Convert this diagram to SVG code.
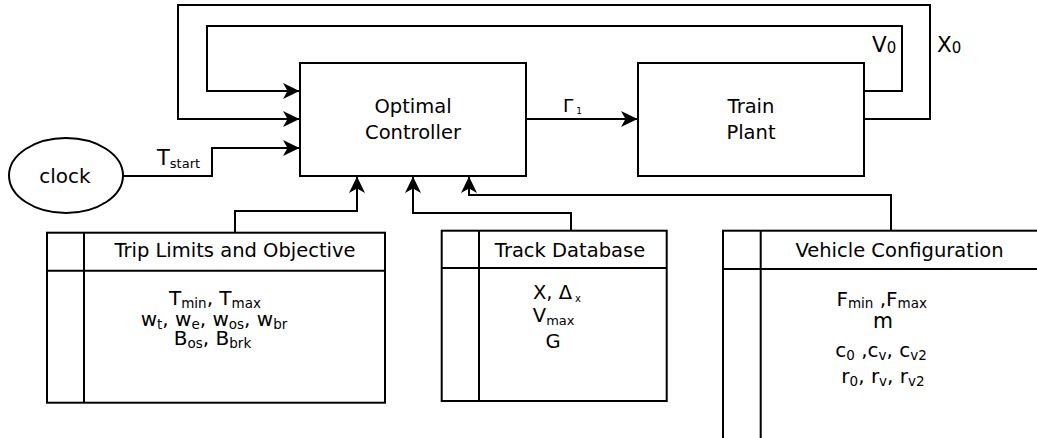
<svg xmlns="http://www.w3.org/2000/svg" width="1037" height="438" viewBox="0 0 1037 438">
  <style>
    .box { fill: #ffffff; stroke: #000000; stroke-width: 2; }
    .wire { fill: none; stroke: #000000; stroke-width: 2; }
    .lbl { font-family: "DejaVu Sans", "Liberation Sans", sans-serif; font-size: 19.5px; fill: #000000; }
    .body { font-family: "DejaVu Sans", "Liberation Sans", sans-serif; font-size: 20px; fill: #000000; text-anchor: middle; }
    .sub { font-size: 13.5px; }
    .mid { text-anchor: middle; }
  </style>
  <defs>
    <marker id="arrow" markerWidth="18" markerHeight="18" refX="16" refY="8" orient="auto" markerUnits="userSpaceOnUse">
      <path d="M16.5,8 L0,0 L4.5,8 L0,16 Z" fill="#000000"/>
    </marker>
  </defs>

  <!-- connectors -->
  <g id="connectors">
    <!-- position feedback X0 -->
    <polyline class="wire" points="864,119 930,119 930,5 178,5 178,119 299,119" marker-end="url(#arrow)"/>
    <!-- velocity feedback V0 -->
    <polyline class="wire" points="864,91 902,91 902,26 207,26 207,91 299,91" marker-end="url(#arrow)"/>
    <!-- control output -->
    <polyline class="wire" points="526,119 637,119" marker-end="url(#arrow)"/>
    <!-- clock start time -->
    <polyline class="wire" points="123,176 212,176 212,148 299,148" marker-end="url(#arrow)"/>
    <!-- trip limits -->
    <polyline class="wire" points="235,233 235,211 357,211 357,177" marker-end="url(#arrow)"/>
    <!-- track database -->
    <polyline class="wire" points="571,231 571,213 413,213 413,177" marker-end="url(#arrow)"/>
    <!-- vehicle configuration -->
    <polyline class="wire" points="891,231 891,195 469,195 469,177" marker-end="url(#arrow)"/>

    <text class="lbl" x="563" y="112" style="font-size:18.5px">Γ<tspan style="font-size:9px" dy="2" dx="3">1</tspan></text>
    <text class="lbl" x="157" y="165" style="font-size:21px">T<tspan style="font-size:13px" dy="3">start</tspan></text>
    <text class="lbl" x="872" y="51.5" style="font-size:21.5px">V<tspan style="font-size:15px" dy="1">0</tspan></text>
    <text class="lbl" x="937" y="51.5" style="font-size:21.5px">X<tspan style="font-size:15px" dy="1">0</tspan></text>
  </g>

  <!-- controller -->
  <g id="optimal-controller">
    <rect class="box" x="300" y="63" width="226" height="113"/>
    <text class="lbl mid" x="413" y="113">Optimal</text>
    <text class="lbl mid" x="413" y="138.5">Controller</text>
  </g>

  <!-- plant -->
  <g id="train-plant">
    <rect class="box" x="638" y="63" width="226" height="113"/>
    <text class="lbl mid" x="751" y="113">Train</text>
    <text class="lbl mid" x="751" y="139">Plant</text>
  </g>

  <!-- clock -->
  <g id="clock">
    <ellipse class="box" cx="66" cy="175.5" rx="57" ry="37.5"/>
    <text class="lbl mid" x="65" y="183" style="font-size:20px">clock</text>
  </g>

  <!-- trip limits and objective -->
  <g id="trip-limits">
    <rect class="box" x="47" y="232.7" width="338" height="170"/>
    <line class="wire" x1="47" y1="270.7" x2="385" y2="270.7"/>
    <line class="wire" x1="84" y1="232.7" x2="84" y2="402.7"/>
    <text class="lbl mid" x="235" y="257">Trip Limits and Objective</text>
    <text class="body" x="215" y="305">T<tspan class="sub" dy="2.5">min</tspan><tspan dy="-2.5">, T</tspan><tspan class="sub" dy="2.5">max</tspan></text>
    <text class="body" x="214" y="326">w<tspan class="sub" dy="2.5">t</tspan><tspan dy="-2.5">, w</tspan><tspan class="sub" dy="2.5">e</tspan><tspan dy="-2.5">, w</tspan><tspan class="sub" dy="2.5">os</tspan><tspan dy="-2.5">, w</tspan><tspan class="sub" dy="2.5">br</tspan></text>
    <text class="body" x="212.5" y="345">B<tspan class="sub" dy="2.5">os</tspan><tspan dy="-2.5">, B</tspan><tspan class="sub" dy="2.5">brk</tspan></text>
  </g>

  <!-- track database -->
  <g id="track-database">
    <rect class="box" x="441.7" y="230.7" width="225" height="170.3"/>
    <line class="wire" x1="441.7" y1="268" x2="666.7" y2="268"/>
    <line class="wire" x1="479" y1="230.7" x2="479" y2="401"/>
    <text class="lbl mid" x="570" y="256.5">Track Database</text>
    <text class="lbl mid" x="557" y="298.5">X, Δ<tspan style="font-size:10px" dy="3" dx="3">x</tspan></text>
    <text class="lbl mid" x="553.7" y="321.5">V<tspan style="font-size:13px" dy="3">max</tspan></text>
    <text class="lbl mid" x="553" y="348">G</text>
  </g>

  <!-- vehicle configuration -->
  <g id="vehicle-configuration">
    <rect class="box" x="723" y="230.7" width="322" height="220"/>
    <line class="wire" x1="723" y1="269" x2="1045" y2="269"/>
    <line class="wire" x1="760.7" y1="230.7" x2="760.7" y2="450"/>
    <text class="lbl mid" x="899.5" y="256.5">Vehicle Configuration</text>
    <text class="body" x="881.7" y="305.5">F<tspan class="sub" dy="2.5">min</tspan><tspan dy="-2.5"> ,F</tspan><tspan class="sub" dy="2.5">max</tspan></text>
    <text class="body" x="883" y="327.5" style="font-size:20.5px">m</text>
    <text class="body" x="881" y="357">c<tspan class="sub" dy="2.5">0</tspan><tspan dy="-2.5"> ,c</tspan><tspan class="sub" dy="2.5">v</tspan><tspan dy="-2.5">, c</tspan><tspan class="sub" dy="2.5">v2</tspan></text>
    <text class="body" x="883" y="383">r<tspan class="sub" dy="2.5">0</tspan><tspan dy="-2.5">, r</tspan><tspan class="sub" dy="2.5">v</tspan><tspan dy="-2.5">, r</tspan><tspan class="sub" dy="2.5">v2</tspan></text>
  </g>
</svg>
